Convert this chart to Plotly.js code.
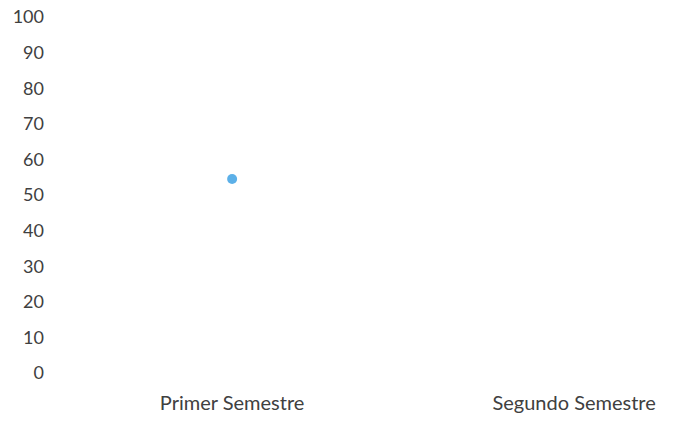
<!DOCTYPE html>
<html>
<head>
<meta charset="utf-8">
<script src="https://cdn.plot.ly/plotly-3.0.1.min.js"></script>
<style>html,body{margin:0;padding:0;background:#fff;}#chart{width:674px;height:421px;}</style>
</head>
<body>
<div id="chart"></div>
<script>
const categories = ["Primer Semestre", "Segundo Semestre"];
const seriesX = ["Primer Semestre"];
const seriesY = [54.5];
const yTicks = [0, 10, 20, 30, 40, 50, 60, 70, 80, 90, 100];

const trace = {
  type: "scatter",
  mode: "markers",
  x: seriesX,
  y: seriesY,
  marker: {color: "#5cb0e8", size: 10},
  hoverinfo: "skip"
};

const layout = {
  width: 674, height: 421,
  margin: {l: 57, r: 0, t: 17, b: 48},
  paper_bgcolor: "#ffffff",
  plot_bgcolor: "#ffffff",
  showlegend: false,
  font: {family: "Lato, 'Open Sans', sans-serif", color: "#404040", size: 18},
  xaxis: {
    type: "category",
    categoryarray: categories,
    tickvals: categories,
    range: [-0.512, 1.292],
    showgrid: false, zeroline: false, showline: false,
    ticks: "", ticklabelstandoff: 16,
    tickfont: {size: 20, color: "#404040"}
  },
  yaxis: {
    range: [0, 100],
    tickvals: yTicks,
    showgrid: false, zeroline: false, showline: false,
    ticks: "", ticklabelstandoff: 12,
    tickfont: {size: 18, color: "#404040"}
  }
};

Plotly.newPlot("chart", [trace], layout, {displayModeBar: false, staticPlot: true});
</script>
</body>
</html>
